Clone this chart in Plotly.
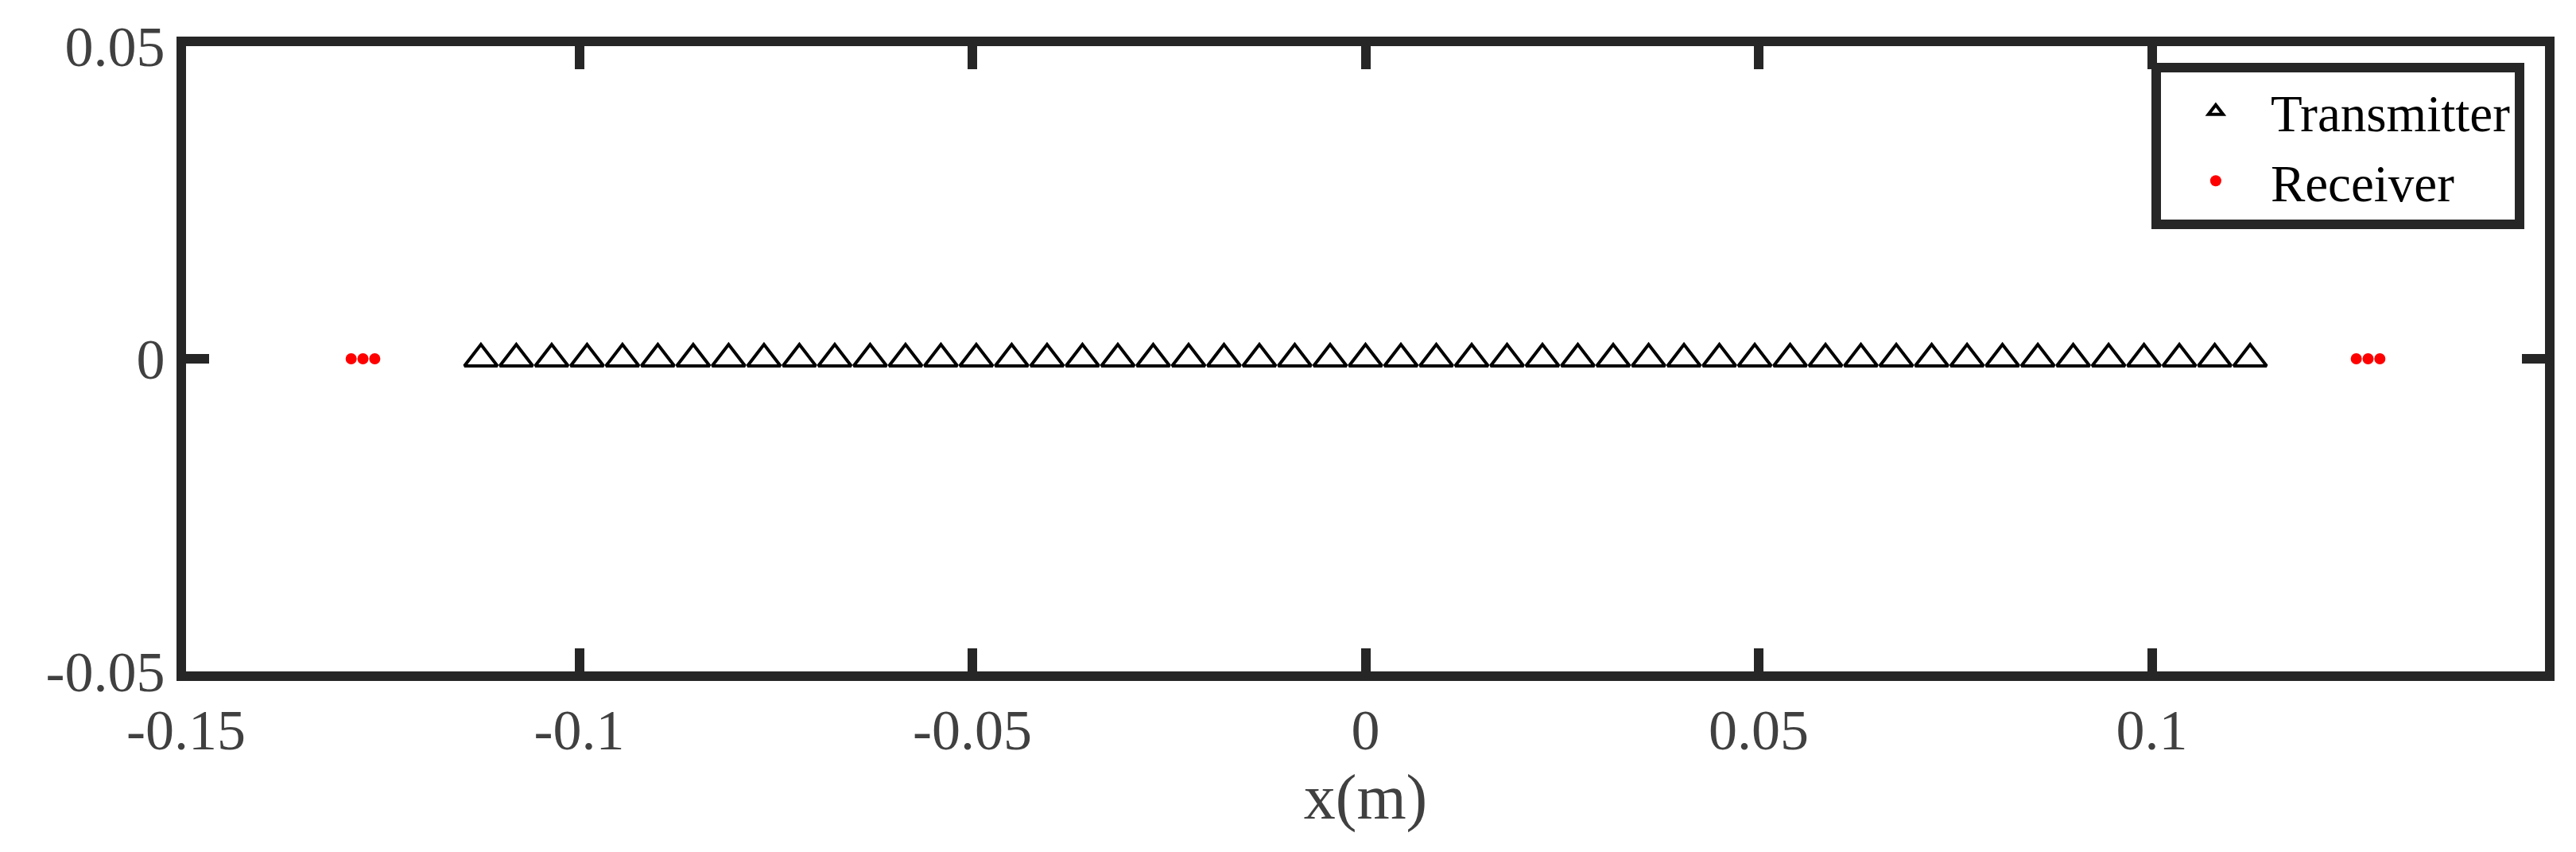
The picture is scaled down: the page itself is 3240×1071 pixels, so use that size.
import plotly.graph_objects as go

# Transmitter element x-positions (m)
tx_x = [-0.1125, -0.108, -0.1035, -0.099, -0.0945, -0.09, -0.0855, -0.081, -0.0765,
        -0.072, -0.0675, -0.063, -0.0585, -0.054, -0.0495, -0.045, -0.0405, -0.036,
        -0.0315, -0.027, -0.0225, -0.018, -0.0135, -0.009, -0.0045, 0.0, 0.0045,
        0.009, 0.0135, 0.018, 0.0225, 0.027, 0.0315, 0.036, 0.0405, 0.045, 0.0495,
        0.054, 0.0585, 0.063, 0.0675, 0.072, 0.0765, 0.081, 0.0855, 0.09, 0.0945,
        0.099, 0.1035, 0.108, 0.1125]
tx_y = [0.0] * len(tx_x)

# Receiver element x-positions (m)
rx_x = [-0.129, -0.1275, -0.126, 0.126, 0.1275, 0.129]
rx_y = [0.0] * len(rx_x)

x_tickvals = [-0.15, -0.1, -0.05, 0, 0.05, 0.1]
x_ticktext = ["-0.15", "-0.1", "-0.05", "0", "0.05", "0.1"]
y_tickvals = [-0.05, 0, 0.05]
y_ticktext = ["-0.05", "0", "0.05"]

FONT = "Liberation Serif, Times New Roman, serif"
AXC = "#262626"
TXTC = "#404040"

fig = go.Figure()
fig.add_trace(go.Scatter(
    x=tx_x, y=tx_y, mode="markers", name="Transmitter",
    marker=dict(symbol="triangle-up-open", size=36, color="black",
                line=dict(width=4, color="black")),
))
fig.add_trace(go.Scatter(
    x=rx_x, y=rx_y, mode="markers", name="Receiver",
    marker=dict(symbol="circle", size=14, color="#ff0000", line=dict(width=0)),
))

axis_common = dict(
    showline=True, linewidth=12, linecolor=AXC, mirror="ticks",
    ticks="inside", ticklen=29, tickwidth=12, tickcolor=AXC,
    showgrid=False, zeroline=False,
    tickfont=dict(family=FONT, size=72, color=TXTC),
)

fig.update_layout(
    width=3240, height=1071, autosize=False,
    margin=dict(l=226, r=47, t=50, b=235),
    paper_bgcolor="white", plot_bgcolor="white",
    font=dict(family=FONT, color=TXTC),
    xaxis=dict(range=[-0.15, 0.15], tickvals=x_tickvals, ticktext=x_ticktext,
               title=dict(text="x(m)", font=dict(family=FONT, size=80, color=TXTC),
                          standoff=18),
               **axis_common),
    yaxis=dict(range=[-0.05, 0.05], tickvals=y_tickvals, ticktext=y_ticktext,
               **axis_common),
    legend=dict(x=0.9912, y=0.9733, xanchor="right", yanchor="top",
                bordercolor=AXC, borderwidth=12, bgcolor="white",
                font=dict(family=FONT, size=65, color="black"),
                itemwidth=128, tracegroupgap=0),
    showlegend=True,
)

fig.write_html("out.html")
